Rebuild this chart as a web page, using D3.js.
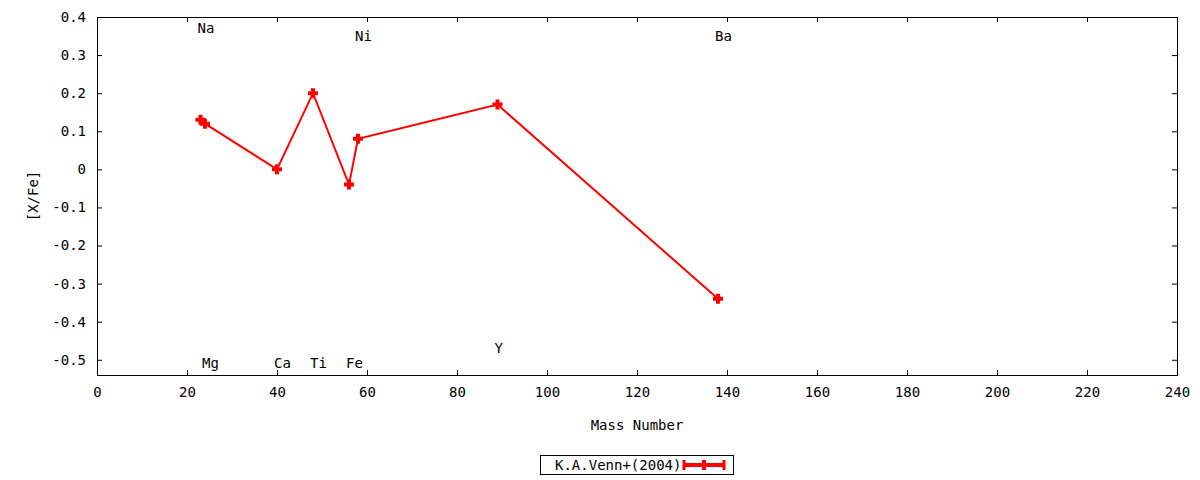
<!DOCTYPE html>
<html>
<head>
<meta charset="utf-8">
<script src="https://cdn.jsdelivr.net/npm/d3@7"></script>
<style>
  body { margin: 0; background: #fff; }
  text { font-family: "DejaVu Sans Mono", monospace; font-size: 14px; fill: #000; }
</style>
</head>
<body>
<svg id="svg"></svg>
<script>
// values
var elements = ["Na", "Mg", "Ca", "Ti", "Fe", "Ni", "Y", "Ba"];
var massNumbers = [23, 24, 40, 48, 56, 58, 89, 138];
var xFe = [0.13, 0.12, 0.00, 0.20, -0.04, 0.08, 0.17, -0.34];
var labelY = [0.37, -0.51, -0.51, -0.51, -0.51, 0.35, -0.47, 0.35];
var xTicks = d3.range(0, 241, 20);
var yTicks = d3.range(-5, 5).map(function (i) { return i / 10; });
var seriesName = "K.A.Venn+(2004)";

var width = 1200, height = 480;
var plotLeft = 97, plotRight = 1177, plotTop = 17, plotBottom = 375;

var svg = d3.select('#svg')
  .attr('width', width)
  .attr('height', height);

var x = d3.scaleLinear().domain([0, 240]).range([plotLeft, plotRight]);
var y = d3.scaleLinear().domain([-0.54, 0.4]).range([plotBottom, plotTop]);

function fmtY(d) {
  if (d === 0) return '0';
  return d3.format('.1f')(d).replace('\u2212', '-');
}

// axes, ticks pointing inward like gnuplot
var gx = svg.append('g').attr('transform', 'translate(0,' + plotBottom + ')')
  .call(d3.axisBottom(x).tickValues(xTicks).tickSize(-5).tickPadding(12).tickFormat(d3.format('d')));
var gxTop = svg.append('g').attr('transform', 'translate(0,' + plotTop + ')')
  .call(d3.axisTop(x).tickValues(xTicks).tickSize(-5).tickFormat(''));
var gy = svg.append('g').attr('transform', 'translate(' + plotLeft + ',0)')
  .call(d3.axisLeft(y).tickValues(yTicks).tickSize(-5).tickPadding(11).tickFormat(fmtY));
var gyRight = svg.append('g').attr('transform', 'translate(' + plotRight + ',0)')
  .call(d3.axisRight(y).tickValues(yTicks).tickSize(-5).tickFormat(''));

[gx, gxTop, gy, gyRight].forEach(function (g) {
  g.select('.domain').remove();
  g.attr('font-family', null).attr('font-size', null);
  g.selectAll('line').attr('stroke', '#000');
  g.selectAll('text').attr('fill', '#000');
});

svg.append('rect')
  .attr('x', plotLeft + 0.5).attr('y', plotTop + 0.5)
  .attr('width', plotRight - plotLeft).attr('height', plotBottom - plotTop)
  .attr('fill', 'none').attr('stroke', '#000').attr('stroke-width', 1);

// axis titles
svg.append('text')
  .attr('x', (plotLeft + plotRight) / 2).attr('y', 425).attr('dy', '0.35em')
  .attr('text-anchor', 'middle').text('Mass Number');
svg.append('text')
  .attr('transform', 'translate(33,' + (plotTop + plotBottom) / 2 + ') rotate(-90)')
  .attr('dy', '0.35em').attr('text-anchor', 'middle').text('[X/Fe]');

// element labels
svg.selectAll('text.elem').data(elements).enter().append('text')
  .attr('class', 'elem')
  .attr('x', function (d, i) { return x(massNumbers[i]) - 3; })
  .attr('y', function (d, i) { return y(labelY[i]); })
  .attr('dy', '0.35em')
  .text(function (d) { return d; });

// data line
var pts = massNumbers.map(function (m, i) { return [m, xFe[i]]; });
var line = d3.line().x(function (d) { return x(d[0]); }).y(function (d) { return y(d[1]); });
svg.append('path')
  .attr('d', line(pts))
  .attr('fill', 'none').attr('stroke', '#ff0000').attr('stroke-width', 2);

function plusPath(cx, cy, r) {
  return 'M' + (cx - r) + ' ' + cy + ' L' + (cx + r) + ' ' + cy +
    ' M' + cx + ' ' + (cy - r) + ' L' + cx + ' ' + (cy + r);
}

svg.selectAll('path.pt').data(pts).enter().append('path')
  .attr('class', 'pt')
  .attr('d', function (d) { return plusPath(x(d[0]), y(d[1]), 5); })
  .attr('stroke', '#ff0000').attr('stroke-width', 4).attr('fill', 'none');

// legend
var lg = svg.append('g');
lg.append('rect')
  .attr('x', 540.5).attr('y', 455.5).attr('width', 193).attr('height', 19)
  .attr('fill', 'none').attr('stroke', '#000');
lg.append('text').attr('x', 555).attr('y', 465).attr('dy', '0.35em').text(seriesName);
lg.append('line')
  .attr('x1', 684).attr('x2', 724).attr('y1', 465).attr('y2', 465)
  .attr('stroke', '#ff0000').attr('stroke-width', 4);
[684, 724].forEach(function (cx) {
  lg.append('line')
    .attr('x1', cx).attr('x2', cx).attr('y1', 460).attr('y2', 470)
    .attr('stroke', '#ff0000').attr('stroke-width', 3);
});
lg.append('path')
  .attr('d', plusPath(704, 465, 5))
  .attr('stroke', '#ff0000').attr('stroke-width', 4).attr('fill', 'none');
</script>
</body>
</html>
